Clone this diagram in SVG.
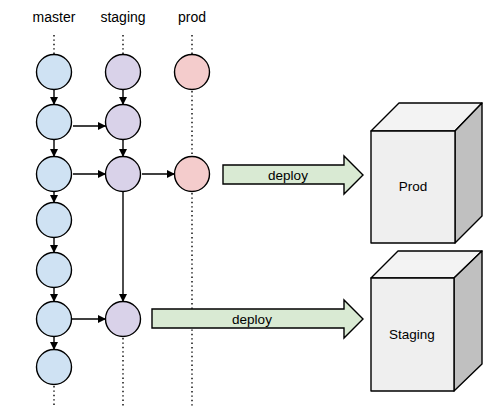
<svg xmlns="http://www.w3.org/2000/svg" width="490" height="407" viewBox="0 0 490 407">
<style>
text{font-family:"Liberation Sans",Arial,sans-serif;font-size:13.5px;fill:#000;text-anchor:middle}
.lbl{font-size:14px}
.m{fill:#cfe2f3;stroke:#000;stroke-width:1.4}
.s{fill:#d9d2e9;stroke:#000;stroke-width:1.4}
.p{fill:#f4cccc;stroke:#000;stroke-width:1.4}
.c{stroke:#000;stroke-width:1.4;fill:none}
.d{stroke:#000;stroke-width:1.4;fill:none;stroke-dasharray:1.4 3}
.dep{fill:#d9ead3;stroke:#000;stroke-width:1.4;stroke-linejoin:miter}
.front{fill:#efefef;stroke:#000;stroke-width:1.4;stroke-linejoin:round}
.top{fill:#f3f3f3;stroke:#000;stroke-width:1.4;stroke-linejoin:round}
.side{fill:#c0c0c0;stroke:#000;stroke-width:1.4;stroke-linejoin:round}
</style>
<defs>
<marker id="ah" viewBox="0 0 10 10" refX="10" refY="5" markerWidth="8" markerHeight="8" markerUnits="userSpaceOnUse" orient="auto">
<path d="M0,0 L10,5 L0,10 z" fill="#000"/>
</marker>
</defs>
<g id="labels">
<text class="lbl" x="54" y="22">master</text>
<text class="lbl" x="123" y="22">staging</text>
<text class="lbl" x="192" y="22">prod</text>
</g>
<g id="connectors">
<line class="d" x1="54" y1="35" x2="54" y2="54"/>
<line class="d" x1="123" y1="35" x2="123" y2="54"/>
<line class="d" x1="192" y1="35" x2="192" y2="54"/>
<line class="d" x1="192" y1="91" x2="192" y2="156"/>
<line class="d" x1="192" y1="193" x2="192" y2="407"/>
<line class="d" x1="123" y1="338" x2="123" y2="407"/>
<line class="d" x1="54" y1="386" x2="54" y2="407"/>
<line class="c" x1="54" y1="89" x2="54" y2="105" marker-end="url(#ah)"/>
<line class="c" x1="54" y1="139" x2="54" y2="157" marker-end="url(#ah)"/>
<line class="c" x1="54" y1="191" x2="54" y2="203" marker-end="url(#ah)"/>
<line class="c" x1="54" y1="237" x2="54" y2="253" marker-end="url(#ah)"/>
<line class="c" x1="54" y1="287" x2="54" y2="302" marker-end="url(#ah)"/>
<line class="c" x1="54" y1="336" x2="54" y2="350" marker-end="url(#ah)"/>
<line class="c" x1="123" y1="89" x2="123" y2="105" marker-end="url(#ah)"/>
<line class="c" x1="123" y1="139" x2="123" y2="157" marker-end="url(#ah)"/>
<line class="c" x1="123" y1="191" x2="123" y2="302" marker-end="url(#ah)"/>
<line class="c" x1="73" y1="126" x2="106" y2="126" marker-end="url(#ah)"/>
<line class="c" x1="73" y1="174" x2="106" y2="174" marker-end="url(#ah)"/>
<line class="c" x1="142" y1="174" x2="175" y2="174" marker-end="url(#ah)"/>
<line class="c" x1="72" y1="319" x2="106" y2="319" marker-end="url(#ah)"/>
</g>
<g id="master">
<circle class="m" cx="54" cy="72" r="17.5"/>
<circle class="m" cx="54" cy="122" r="17.5"/>
<circle class="m" cx="54" cy="174" r="17.5"/>
<circle class="m" cx="54" cy="220" r="17.5"/>
<circle class="m" cx="54" cy="270" r="17.5"/>
<circle class="m" cx="54" cy="319" r="17.5"/>
<circle class="m" cx="54" cy="367" r="17.5"/>
</g>
<g id="staging">
<circle class="s" cx="123" cy="72" r="17.5"/>
<circle class="s" cx="123" cy="122" r="17.5"/>
<circle class="s" cx="123" cy="174" r="17.5"/>
<circle class="s" cx="123" cy="319" r="17.5"/>
</g>
<g id="prod">
<circle class="p" cx="192" cy="72" r="17.5"/>
<circle class="p" cx="192" cy="174" r="17.5"/>
</g>
<g id="deploy1">
<path class="dep" d="M223,165 L344,165 L344,156 L363,175 L344,194 L344,184 L223,184 Z"/>
<text x="288" y="180">deploy</text>
</g>
<g id="deploy2">
<path class="dep" d="M152,309 L344,309 L344,300 L363,319 L344,338 L344,328 L152,328 Z"/>
<text x="252" y="324">deploy</text>
</g>
<g id="prodbox">
<path class="top" d="M371,131 L399,103 L482,103 L455,131 Z"/>
<path class="side" d="M455,131 L482,103 L482,216 L455,243 Z"/>
<rect class="front" x="371" y="131" width="84" height="112"/>
<text x="413" y="191">Prod</text>
</g>
<g id="stagingbox">
<path class="top" d="M371,278 L398,251 L482,251 L454,278 Z"/>
<path class="side" d="M454,278 L482,251 L482,364 L454,391 Z"/>
<rect class="front" x="371" y="278" width="83" height="113"/>
<text x="412" y="339">Staging</text>
</g>
</svg>
